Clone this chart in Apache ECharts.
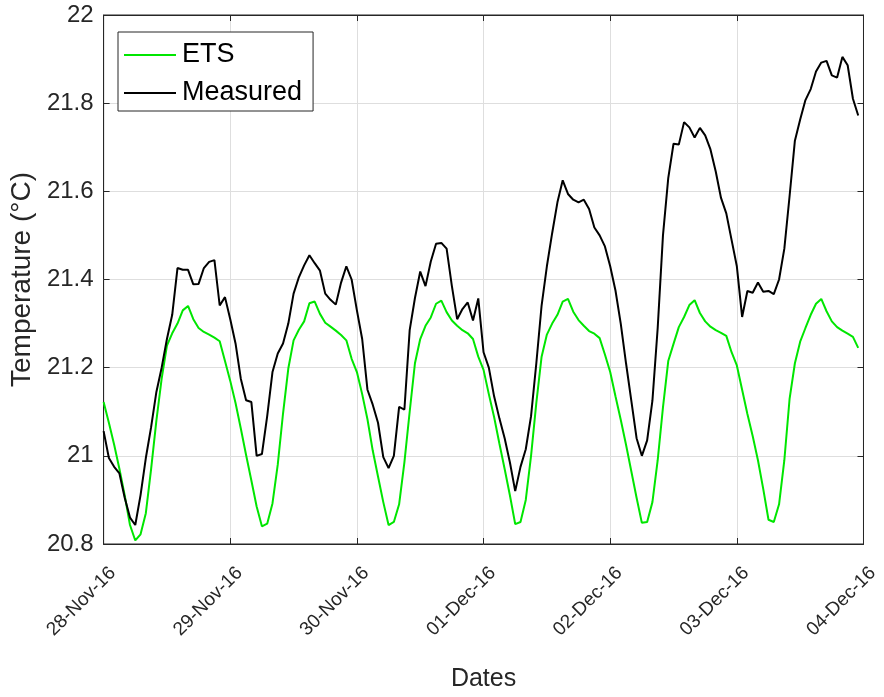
<!DOCTYPE html>
<html>
<head>
<meta charset="utf-8">
<script src="https://cdn.jsdelivr.net/npm/echarts@6/dist/echarts.min.js"></script>
<style>
  html, body { margin: 0; padding: 0; background: #fff; }
  #chart { width: 884px; height: 697px; }
</style>
</head>
<body>
<div id="chart"></div>
<script>
// Hourly samples starting 28-Nov-16 00:00 (index = hours since start)
const tickLabels = ['28-Nov-16', '29-Nov-16', '30-Nov-16', '01-Dec-16', '02-Dec-16', '03-Dec-16', '04-Dec-16'];

const ets = [
  21.122, 21.075, 21.025, 20.97, 20.91, 20.843, 20.808, 20.822, 20.87, 20.97, 21.08, 21.175,
  21.25, 21.278, 21.30, 21.33, 21.34, 21.31, 21.29, 21.281, 21.275, 21.268, 21.26, 21.215,
  21.17, 21.12, 21.062, 21.002, 20.944, 20.885, 20.84, 20.846, 20.892, 20.98, 21.096, 21.198,
  21.262, 21.286, 21.305, 21.346, 21.35, 21.322, 21.302, 21.293, 21.284, 21.274, 21.262, 21.22,
  21.19, 21.14, 21.083, 21.012, 20.953, 20.895, 20.843, 20.85, 20.89, 20.985, 21.10, 21.21,
  21.265, 21.295, 21.314, 21.345, 21.352, 21.326, 21.307, 21.295, 21.285, 21.278, 21.265, 21.225,
  21.195, 21.14, 21.088, 21.028, 20.97, 20.91, 20.845, 20.85, 20.9, 21.0, 21.12, 21.225,
  21.275, 21.30, 21.32, 21.35, 21.356, 21.327, 21.308, 21.295, 21.283, 21.277, 21.267, 21.23,
  21.19, 21.135, 21.082, 21.025, 20.965, 20.905, 20.848, 20.85, 20.895, 20.99, 21.11, 21.215,
  21.254, 21.292, 21.315, 21.342, 21.353, 21.324, 21.305, 21.293, 21.285, 21.279, 21.272, 21.235,
  21.205, 21.15, 21.095, 21.045, 20.99, 20.925, 20.855, 20.85, 20.89, 20.99, 21.13, 21.21,
  21.259, 21.29, 21.32, 21.345, 21.356, 21.328, 21.305, 21.292, 21.284, 21.277, 21.27, 21.245
];

const measured = [
  21.056, 20.995, 20.975, 20.96, 20.905, 20.86, 20.843, 20.911, 20.995, 21.065, 21.145, 21.20,
  21.265, 21.32, 21.426, 21.422, 21.422, 21.389, 21.39, 21.426, 21.44, 21.444, 21.341, 21.36,
  21.31, 21.255, 21.175, 21.126, 21.122, 21.0, 21.004, 21.09, 21.19, 21.232, 21.255, 21.30,
  21.368, 21.405, 21.432, 21.455, 21.437, 21.42, 21.368, 21.354, 21.343, 21.393, 21.43, 21.40,
  21.33, 21.265, 21.15, 21.116, 21.075, 20.997, 20.972, 21.0, 21.111, 21.105, 21.285, 21.358,
  21.418, 21.385, 21.441, 21.481, 21.483, 21.47, 21.385, 21.31, 21.333, 21.348, 21.307, 21.357,
  21.235, 21.20, 21.135, 21.085, 21.04, 20.985, 20.92, 20.975, 21.015, 21.09, 21.21, 21.341,
  21.43, 21.505, 21.575, 21.625, 21.594, 21.581, 21.575, 21.581, 21.56, 21.518, 21.5, 21.475,
  21.43, 21.375, 21.30, 21.21, 21.125, 21.04, 21.0, 21.035, 21.125, 21.29, 21.50, 21.63,
  21.708, 21.706, 21.757, 21.745, 21.722, 21.744, 21.727, 21.695, 21.645, 21.585, 21.55, 21.49,
  21.43, 21.315, 21.374, 21.37, 21.393, 21.372, 21.374, 21.367, 21.40, 21.47, 21.59, 21.715,
  21.763, 21.807, 21.832, 21.872, 21.892, 21.896, 21.863, 21.858, 21.905, 21.886, 21.81, 21.772
];

const HOURS_PER_DAY = 24;
const FONT = '"Liberation Sans", Arial, Helvetica, sans-serif';
const AXIS_COLOR = '#262626';

const chart = echarts.init(document.getElementById('chart'), null, { renderer: 'canvas' });

const xMax = (tickLabels.length - 1) * HOURS_PER_DAY;

const baseX = {
  type: 'value',
  min: 0,
  max: xMax,
  interval: HOURS_PER_DAY,
  axisLine: { show: true, onZero: false, lineStyle: { color: AXIS_COLOR, width: 1 } },
  axisTick: { show: true, inside: true, length: 6, lineStyle: { color: AXIS_COLOR } }
};
const baseY = {
  type: 'value',
  min: 20.8,
  max: 22,
  interval: 0.2,
  axisLine: { show: true, onZero: false, lineStyle: { color: AXIS_COLOR, width: 1 } },
  axisTick: { show: true, inside: true, length: 6, lineStyle: { color: AXIS_COLOR } }
};

chart.setOption({
  animation: false,
  backgroundColor: '#ffffff',
  textStyle: { fontFamily: FONT },
  grid: {
    left: 103, right: 20, top: 15, bottom: 145,
    show: true, borderColor: AXIS_COLOR, borderWidth: 1, backgroundColor: '#ffffff'
  },
  legend: {
    orient: 'vertical',
    left: 118,
    top: 32,
    padding: [8, 11, 3, 6],
    itemGap: 8,
    itemWidth: 52,
    itemHeight: 2,
    icon: 'rect',
    backgroundColor: '#ffffff',
    borderColor: AXIS_COLOR,
    borderWidth: 1,
    textStyle: { fontFamily: FONT, fontSize: 27, lineHeight: 30, color: '#000000', padding: [0, 0, 0, 1] },
    data: ['ETS', 'Measured']
  },
  xAxis: [
    Object.assign({}, baseX, {
      position: 'bottom',
      name: 'Dates',
      nameLocation: 'middle',
      nameGap: 123,
      nameTextStyle: { fontFamily: FONT, fontSize: 25, color: AXIS_COLOR },
      axisLabel: {
        rotate: 45,
        margin: 17,
        align: 'right',
        verticalAlign: 'top',
        lineHeight: 26,
        fontFamily: FONT,
        fontSize: 19,
        color: AXIS_COLOR,
        formatter: v => tickLabels[Math.round(v / HOURS_PER_DAY)] || ''
      },
      splitLine: { show: true, lineStyle: { color: '#dedede', width: 1 } }
    }),
    Object.assign({}, baseX, {
      position: 'top',
      axisLabel: { show: false },
      splitLine: { show: false }
    })
  ],
  yAxis: [
    Object.assign({}, baseY, {
      position: 'left',
      name: 'Temperature (°C)',
      nameLocation: 'middle',
      nameGap: 53,
      nameTextStyle: { fontFamily: FONT, fontSize: 28, color: AXIS_COLOR },
      axisLabel: {
        margin: 10,
        fontFamily: FONT,
        fontSize: 24,
        color: AXIS_COLOR
      },
      splitLine: { show: true, lineStyle: { color: '#dedede', width: 1 } }
    }),
    Object.assign({}, baseY, {
      position: 'right',
      axisLabel: { show: false },
      splitLine: { show: false }
    })
  ],
  series: [
    {
      name: 'ETS',
      type: 'line',
      xAxisIndex: 0,
      yAxisIndex: 0,
      data: ets.map((v, i) => [i, v]),
      showSymbol: false,
      symbol: 'none',
      color: '#00e600',
      lineStyle: { color: '#00e600', width: 2 },
      z: 2
    },
    {
      name: 'Measured',
      type: 'line',
      xAxisIndex: 0,
      yAxisIndex: 0,
      data: measured.map((v, i) => [i, v]),
      showSymbol: false,
      symbol: 'none',
      color: '#000000',
      lineStyle: { color: '#000000', width: 2 },
      z: 3
    }
  ]
});
</script>
</body>
</html>
